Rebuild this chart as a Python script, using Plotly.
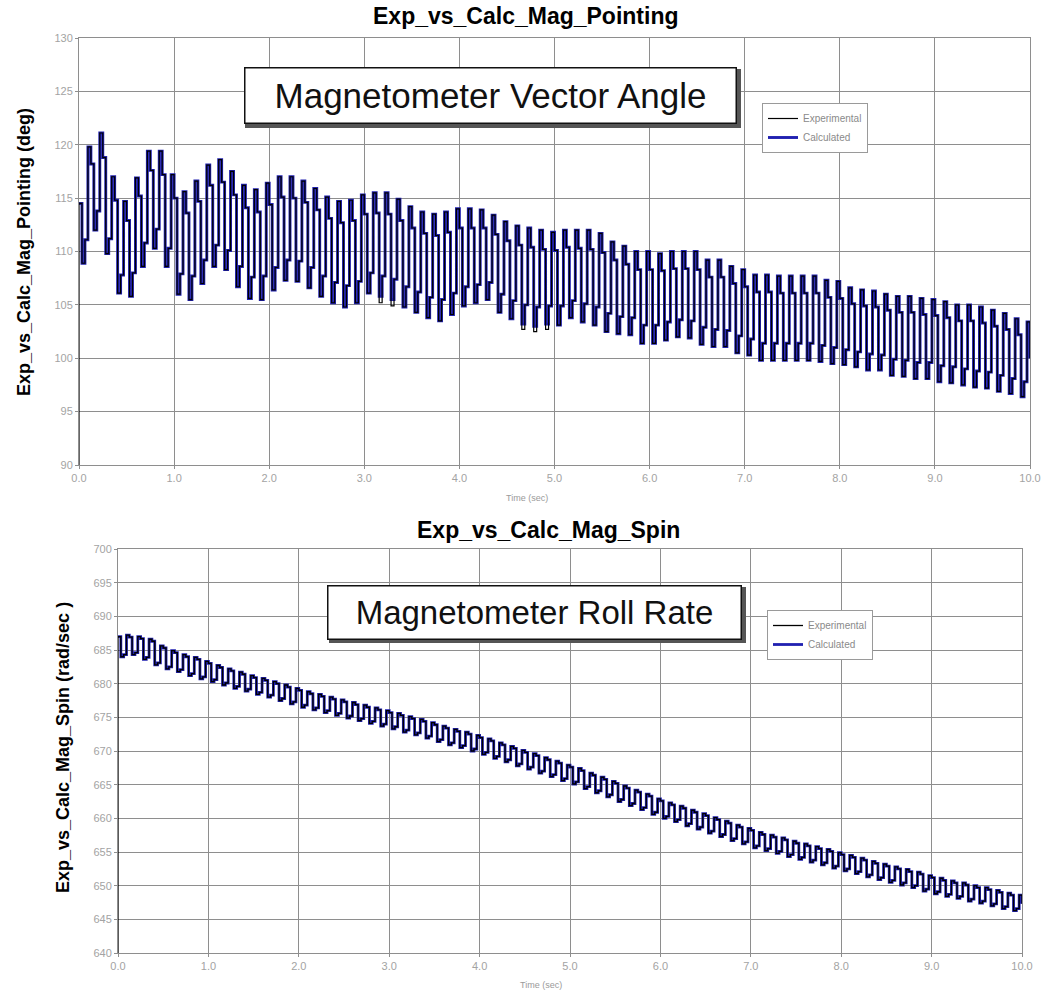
import plotly.graph_objects as go

W, H = 1044, 994

# ---------------- data: Magnetometer pointing (deg), 4 samples per spin cycle ----------------
sample_step = 0.03125  # s between samples

top_shoulder = [
    114.5, 118.2, 118.8, 114.8, 112.9, 115.2, 117.6, 117.2, 115.0, 113.6,
    114.7, 116.2, 116.5, 115.3, 114.1, 113.7, 114.4, 115.1, 115.0, 114.6,
    113.9, 113.1, 112.7, 112.9, 113.5, 113.6, 113.5, 112.9, 112.2, 111.7,
    111.5, 111.8, 112.2, 112.2, 112.2, 111.6, 111.0, 110.6, 110.4, 110.2,
    110.1, 110.4, 110.3, 110.2, 109.9, 109.2, 108.8, 108.3, 108.3, 108.2,
    108.4, 108.4, 108.3, 107.6, 107.6, 107.0, 106.7, 106.2, 106.2, 106.1,
    106.1, 106.1, 106.1, 105.7, 105.6, 105.1, 104.9, 104.8, 104.5, 104.3,
    104.3, 104.1, 104.0, 103.8, 103.5, 103.5, 103.3, 103.0, 102.7, 102.2]
top_trough = [
    108.9, 112.0, 109.8, 106.1, 105.8, 108.6, 110.3, 108.6, 106.0, 105.5,
    107.0, 108.6, 108.3, 106.7, 105.6, 105.5, 106.4, 107.3, 107.2, 106.6,
    105.8, 105.2, 104.8, 105.2, 106.1, 105.8, 105.5, 104.8, 104.3, 103.8,
    103.5, 104.1, 104.9, 105.2, 105.5, 104.3, 103.7, 103.2, 103.0, 103.2,
    103.1, 103.8, 103.4, 103.1, 102.5, 102.3, 102.2, 101.4, 101.4, 101.7,
    102.0, 101.9, 101.3, 101.1, 101.1, 100.5, 100.3, 99.8, 99.8, 99.8,
    99.8, 99.8, 99.7, 99.5, 99.4, 99.2, 98.9, 98.9, 98.4, 98.3,
    98.1, 98.1, 97.8, 97.7, 97.5, 97.3, 97.2, 96.9, 96.7, 96.4]
top_rise = [
    111.1, 113.8, 111.2, 107.8, 108.0, 110.8, 112.1, 110.3, 107.9, 107.7,
    109.2, 110.6, 110.1, 108.6, 107.6, 107.7, 108.5, 109.2, 109.1, 108.5,
    107.7, 107.1, 106.8, 107.2, 108.0, 107.7, 107.4, 106.7, 106.2, 105.7,
    105.5, 106.1, 106.7, 106.9, 107.1, 106.0, 105.4, 105.0, 104.8, 104.9,
    104.9, 105.4, 105.1, 104.8, 104.2, 103.9, 103.8, 103.1, 103.1, 103.4,
    103.6, 103.5, 102.9, 102.7, 102.6, 102.1, 101.8, 101.4, 101.4, 101.4,
    101.4, 101.4, 101.2, 101.0, 100.8, 100.6, 100.4, 100.3, 99.9, 99.8,
    99.6, 99.6, 99.3, 99.2, 99.0, 98.8, 98.7, 98.4, 98.1, 97.8]
top_peak = [
    119.8, 121.1, 117.0, 114.7, 116.9, 119.4, 119.4, 117.2, 115.6, 116.6,
    118.1, 118.6, 117.5, 116.2, 115.8, 116.4, 117.0, 117.0, 116.6, 115.9,
    115.1, 114.7, 114.8, 115.3, 115.5, 115.5, 114.9, 114.2, 113.7, 113.5,
    113.7, 114.0, 114.0, 113.9, 113.4, 112.8, 112.4, 112.2, 112.0, 111.8,
    112.0, 112.0, 112.0, 111.7, 110.9, 110.5, 110.0, 110.0, 109.8, 110.0,
    110.0, 110.0, 109.2, 109.2, 108.6, 108.3, 107.8, 107.8, 107.7, 107.7,
    107.7, 107.7, 107.3, 107.2, 106.6, 106.4, 106.3, 106.0, 105.8, 105.8,
    105.6, 105.5, 105.3, 105.0, 105.0, 104.8, 104.5, 104.2, 103.7, 103.4]
top_end = 100.0
top_exp_start = 90.0
top_exp_trough = {25: 105.2, 26: 104.9, 37: 102.7, 38: 102.5, 39: 102.7}

# ---------------- data: Magnetometer spin (rad/sec) ----------------
spin_shoulder = [
    687.0, 686.9, 686.7, 686.3, 685.3, 684.6, 684.0, 683.6, 683.0, 682.4,
    681.9, 681.4, 680.9, 680.5, 680.0, 679.5, 679.0, 678.5, 678.1, 677.7,
    677.3, 676.9, 676.5, 676.1, 675.7, 675.3, 674.8, 674.4, 673.9, 673.4,
    672.9, 672.5, 672.0, 671.5, 670.9, 670.4, 669.8, 669.3, 668.7, 668.2,
    667.6, 667.1, 666.4, 665.8, 665.2, 664.5, 663.9, 663.3, 662.6, 662.0,
    661.5, 660.9, 660.4, 659.8, 659.3, 658.7, 658.2, 657.6, 657.2, 656.8,
    656.3, 655.9, 655.5, 655.1, 654.6, 654.2, 653.8, 653.3, 652.9, 652.5,
    652.1, 651.7, 651.2, 650.8, 650.4, 650.1, 649.7, 649.4, 649.0, 648.6]
spin_trough = [
    684.0, 684.3, 683.6, 682.8, 682.2, 681.8, 681.2, 680.7, 680.3, 679.8,
    679.3, 678.9, 678.4, 678.0, 677.5, 677.0, 676.5, 676.1, 675.7, 675.3,
    674.9, 674.5, 674.1, 673.7, 673.3, 672.8, 672.4, 671.9, 671.4, 670.9,
    670.5, 670.0, 669.5, 668.9, 668.4, 667.8, 667.3, 666.7, 666.2, 665.6,
    665.1, 664.4, 663.8, 663.2, 662.5, 661.9, 661.3, 660.6, 660.0, 659.5,
    658.9, 658.4, 657.8, 657.3, 656.7, 656.2, 655.6, 655.2, 654.8, 654.3,
    653.9, 653.5, 653.1, 652.6, 652.2, 651.8, 651.3, 650.9, 650.5, 650.1,
    649.7, 649.2, 648.8, 648.4, 648.1, 647.7, 647.4, 647.0, 646.6, 646.3]
spin_rise = [
    684.3, 684.6, 683.9, 683.1, 682.5, 682.1, 681.5, 681.0, 680.6, 680.1,
    679.6, 679.2, 678.7, 678.3, 677.8, 677.3, 676.8, 676.4, 676.0, 675.6,
    675.2, 674.8, 674.4, 674.0, 673.6, 673.1, 672.7, 672.2, 671.7, 671.2,
    670.8, 670.3, 669.8, 669.2, 668.7, 668.1, 667.6, 667.0, 666.5, 665.9,
    665.4, 664.7, 664.1, 663.5, 662.8, 662.2, 661.6, 660.9, 660.3, 659.8,
    659.2, 658.7, 658.1, 657.6, 657.0, 656.5, 655.9, 655.5, 655.1, 654.6,
    654.2, 653.8, 653.4, 652.9, 652.5, 652.1, 651.6, 651.2, 650.8, 650.4,
    650.0, 649.5, 649.1, 648.7, 648.4, 648.0, 647.7, 647.3, 646.9, 646.6]
spin_peak = [
    687.2, 687.0, 686.6, 685.6, 684.9, 684.3, 683.9, 683.3, 682.7, 682.2,
    681.7, 681.2, 680.8, 680.3, 679.8, 679.3, 678.8, 678.4, 678.0, 677.6,
    677.2, 676.8, 676.4, 676.0, 675.6, 675.1, 674.7, 674.2, 673.7, 673.2,
    672.8, 672.3, 671.8, 671.2, 670.7, 670.1, 669.6, 669.0, 668.5, 667.9,
    667.4, 666.7, 666.1, 665.5, 664.8, 664.2, 663.6, 662.9, 662.3, 661.8,
    661.2, 660.7, 660.1, 659.6, 659.0, 658.5, 657.9, 657.5, 657.1, 656.6,
    656.2, 655.8, 655.4, 654.9, 654.5, 654.1, 653.6, 653.2, 652.8, 652.4,
    652.0, 651.5, 651.1, 650.7, 650.4, 650.0, 649.7, 649.3, 648.9, 648.6]
spin_end = 647.3
spin_exp_start = 640.0

x_ticks = [0, 1, 2, 3, 4, 5, 6, 7, 8, 9, 10]
top_y_ticks = [90, 95, 100, 105, 110, 115, 120, 125, 130]
spin_y_ticks = [640, 645, 650, 655, 660, 665, 670, 675, 680, 685, 690, 695, 700]


def staircase(sh, tr, ri, pk, end, trough_override=None):
    vals = []
    for i, (s, t, r, p) in enumerate(zip(sh, tr, ri, pk)):
        if trough_override and i in trough_override:
            t = trough_override[i]
        vals += [s, t, r, p]
    vals.append(end)
    return vals


calc_top = staircase(top_shoulder, top_trough, top_rise, top_peak, top_end)
exp_top = [top_exp_start] + staircase(top_shoulder, top_trough, top_rise, top_peak, top_end, top_exp_trough)
calc_spin = staircase(spin_shoulder, spin_trough, spin_rise, spin_peak, spin_end)
exp_spin = [spin_exp_start] + staircase(spin_shoulder, spin_trough, spin_rise, spin_peak, spin_end)

t_calc_top = [i * sample_step for i in range(len(calc_top))]
t_exp_top = [0.0] + t_calc_top
t_calc_spin = [i * sample_step for i in range(len(calc_spin))]
t_exp_spin = [0.0] + t_calc_spin

FONT = "Liberation Sans, Arial, sans-serif"
BLUE = "#2020b0"
GRID = "#8e8e8e"
TICKC = "#a3a3a3"


def px(x):
    return x / W


def py(y):
    return 1 - y / H


fig = go.Figure()

fig.add_trace(go.Scatter(x=t_calc_top, y=calc_top, mode="lines", name="Calculated",
                         line=dict(color=BLUE, width=2.9, shape="hv"),
                         xaxis="x", yaxis="y", legend="legend", legendrank=2))
fig.add_trace(go.Scatter(x=t_exp_top, y=exp_top, mode="lines", name="Experimental",
                         line=dict(color="#000000", width=1.2, shape="hv"),
                         xaxis="x", yaxis="y", legend="legend", legendrank=1))
fig.add_trace(go.Scatter(x=t_calc_spin, y=calc_spin, mode="lines", name="Calculated",
                         line=dict(color=BLUE, width=2.8, shape="hv"),
                         xaxis="x2", yaxis="y2", legend="legend2", legendrank=2))
fig.add_trace(go.Scatter(x=t_exp_spin, y=exp_spin, mode="lines", name="Experimental",
                         line=dict(color="#000000", width=1.3, shape="hv"),
                         xaxis="x2", yaxis="y2", legend="legend2", legendrank=1))

axis_common = dict(showgrid=True, gridcolor=GRID, gridwidth=1, zeroline=False,
                   showline=True, linecolor=GRID, linewidth=1, mirror=True,
                   ticks="outside", ticklen=3, tickcolor=GRID, automargin=False,
                   tickfont=dict(family=FONT, size=11, color=TICKC))

fig.update_layout(
    width=W, height=H, autosize=False,
    margin=dict(l=0, r=0, t=0, b=0, pad=0),
    paper_bgcolor="white", plot_bgcolor="white",
    font=dict(family=FONT),
    xaxis=dict(domain=[px(79), px(1030)], range=[0, 10], tickvals=x_ticks,
               tickformat=".1f", anchor="y", **axis_common),
    yaxis=dict(domain=[py(465), py(38)], range=[90, 130], tickvals=top_y_ticks,
               anchor="x", **axis_common),
    xaxis2=dict(domain=[px(118), px(1022)], range=[0, 10], tickvals=x_ticks,
                tickformat=".1f", anchor="y2", **axis_common),
    yaxis2=dict(domain=[py(953), py(549)], range=[640, 700], tickvals=spin_y_ticks,
                anchor="x2", **axis_common),
    legend=dict(x=px(762), y=py(103), xanchor="left", yanchor="top",
                bgcolor="white", bordercolor="#9a9a9a", borderwidth=1,
                font=dict(family=FONT, size=10, color="#8a8a8a"),
                itemwidth=30, tracegroupgap=0),
    legend2=dict(x=px(767), y=py(610), xanchor="left", yanchor="top",
                 bgcolor="white", bordercolor="#9a9a9a", borderwidth=1,
                 font=dict(family=FONT, size=10, color="#8a8a8a"),
                 itemwidth=30, tracegroupgap=0),
    showlegend=True,
)

# drop shadows for the label boxes
fig.add_shape(type="rect", xref="paper", yref="paper",
              x0=px(245), x1=px(741), y0=py(128), y1=py(69),
              fillcolor="#555555", line=dict(width=0), layer="above")
fig.add_shape(type="rect", xref="paper", yref="paper",
              x0=px(329), x1=px(746), y0=py(643), y1=py(587),
              fillcolor="#555555", line=dict(width=0), layer="above")

annotations = [
    dict(text="<b>Exp_vs_Calc_Mag_Pointing</b>", x=px(526), y=py(16),
         font=dict(size=23, color="#000")),
    dict(text="<b>Exp_vs_Calc_Mag_Spin</b>", x=px(548), y=py(530),
         font=dict(size=23, color="#000")),
    dict(text="<b>Exp_vs_Calc_Mag_Pointing (deg)</b>", x=px(24), y=py(252),
         textangle=-90, font=dict(size=18, color="#000")),
    dict(text="<b>Exp_vs_Calc_Mag_Spin (rad/sec )</b>", x=px(63), y=py(748),
         textangle=-90, font=dict(size=18, color="#000")),
    dict(text="Time (sec)", x=px(527), y=py(498), font=dict(size=9, color="#9a9a9a")),
    dict(text="Time (sec)", x=px(541), y=py(985), font=dict(size=9, color="#9a9a9a")),
    dict(text="Magnetometer Vector Angle", x=px(490), y=py(95.5), width=490, height=54,
         font=dict(size=35, color="#111"), bgcolor="white", bordercolor="#111",
         borderwidth=1.5, borderpad=0),
    dict(text="Magnetometer Roll Rate", x=px(534), y=py(612), width=412, height=52,
         font=dict(size=33, color="#111"), bgcolor="white", bordercolor="#111",
         borderwidth=1.5, borderpad=0),
]
for a in annotations:
    a.setdefault("xref", "paper")
    a.setdefault("yref", "paper")
    a.setdefault("showarrow", False)
    a.setdefault("xanchor", "center")
    a.setdefault("yanchor", "middle")
    a["font"]["family"] = FONT
    fig.add_annotation(**a)

fig.write_html("out.html")
